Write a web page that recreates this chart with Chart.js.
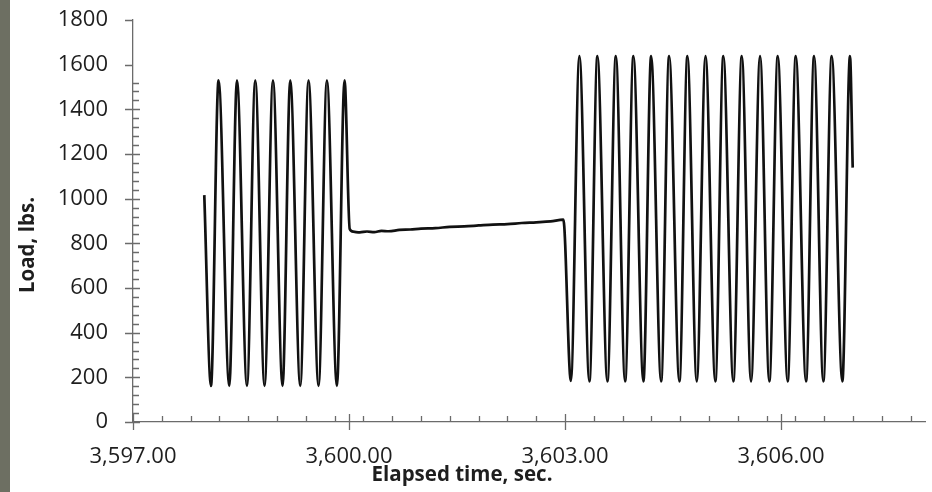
<!DOCTYPE html>
<html lang="en">
  <head>
    <meta charset="UTF-8" />
    <title>Load vs elapsed time</title>
    <script src="https://cdn.jsdelivr.net/npm/chart.js@4"></script>
    <style>
      body { margin: 0; background: #fff; }
      #wrap { position: relative; width: 932px; height: 492px; }
      #strip { position: absolute; left: 0; top: 0; width: 10px; height: 492px; background: #6d6f62; }
    </style>
  </head>
  <body>
    <div id="wrap"><canvas id="myChart"></canvas><div id="strip"></div></div>
    <script>
      // turning points of the load cycles + the hold in between
      const time = [
        3597.990, 3598.083, 3598.188, 3598.337, 3598.444, 3598.583, 3598.698, 3598.827,
        3598.944, 3599.077, 3599.184, 3599.323, 3599.438, 3599.577, 3599.693, 3599.832,
        3599.938, 3600.010,
        3600.060, 3600.150, 3600.250, 3600.350, 3600.450, 3600.550, 3600.700, 3600.850,
        3601.000, 3601.200, 3601.400, 3601.600, 3601.800, 3602.000, 3602.200, 3602.400,
        3602.600, 3602.800, 3602.977,
        3603.081, 3603.200, 3603.339, 3603.450, 3603.589, 3603.706, 3603.835, 3603.950,
        3604.089, 3604.196, 3604.335, 3604.446, 3604.589, 3604.700, 3604.830, 3604.952,
        3605.088, 3605.199, 3605.338, 3605.455, 3605.584, 3605.709, 3605.838, 3605.955,
        3606.093, 3606.205, 3606.348, 3606.459, 3606.588, 3606.704, 3606.852, 3606.958,
        3606.996
      ];
      const load = [
        1016, 162, 1530, 162, 1530, 162, 1530, 162,
        1530, 162, 1530, 162, 1530, 162, 1530, 162,
        1530, 864,
        852, 849, 853, 850, 856, 854, 860, 862,
        866, 868, 874, 876, 880, 884, 886, 891,
        894, 898, 906,
        184, 1638, 182, 1638, 182, 1638, 182, 1638,
        182, 1638, 182, 1638, 182, 1638, 182, 1638,
        182, 1638, 182, 1638, 182, 1638, 182, 1638,
        182, 1638, 182, 1638, 182, 1638, 182, 1638,
        1139
      ];

      const xTicks = [3597, 3600, 3603, 3606];
      const yTicks = [0, 200, 400, 600, 800, 1000, 1200, 1400, 1600, 1800];
      const xMin = 3597, xMax = 3608, xMinorStep = 0.4;
      const yMin = 0, yMax = 1800, yMinorStep = 40;
      const xTitle = 'Elapsed time, sec.';
      const yTitle = 'Load, lbs.';

      const axisColor = '#6b6b6b';
      const textColor = '#1e1e1e';
      const labelFont = { family: 'Open Sans', size: 22 };

      // excel style tick marks: majors cross the axis, minors point inward
      const tickMarks = {
        id: 'tickMarks',
        afterDraw(chart) {
          const { ctx, scales: { x, y } } = chart;
          const ax = x.getPixelForValue(xMin);
          const ay = y.getPixelForValue(yMin);
          ctx.save();
          ctx.strokeStyle = axisColor;
          ctx.lineWidth = 1.3;
          ctx.beginPath();
          for (let k = 1; xMin + k * xMinorStep <= xMax; k++) {
            const px = Math.round(x.getPixelForValue(xMin + k * xMinorStep)) + 0.5;
            ctx.moveTo(px, ay); ctx.lineTo(px, ay - 6);
          }
          xTicks.forEach(v => {
            const px = Math.round(x.getPixelForValue(v)) + 0.5;
            ctx.moveTo(px, ay - 8); ctx.lineTo(px, ay + 8);
          });
          for (let k = 1; yMin + k * yMinorStep < yMax; k++) {
            const v = yMin + k * yMinorStep;
            if (v % 200 === 0 || v > 1540) continue;
            const py = Math.round(y.getPixelForValue(v)) + 0.5;
            ctx.moveTo(ax, py); ctx.lineTo(ax + 6, py);
          }
          yTicks.forEach(v => {
            const py = Math.round(y.getPixelForValue(v)) + 0.5;
            ctx.moveTo(ax - 8, py); ctx.lineTo(v > 1540 ? ax : ax + 7, py);
          });
          ctx.stroke();

          // axis titles, placed like the excel original (not centred on the plot)
          ctx.fillStyle = textColor;
          ctx.font = 'bold 20.5px "Open Sans"';
          ctx.textAlign = 'center';
          ctx.textBaseline = 'middle';
          ctx.fillText(xTitle, 462, 475);
          ctx.translate(28, 245);
          ctx.rotate(-Math.PI / 2);
          ctx.fillText(yTitle, 0, 0);
          ctx.restore();
        }
      };

      const ctx = document.getElementById('myChart').getContext('2d');
      const myChart = new Chart(ctx, {
        type: 'line',
        data: {
          datasets: [{
            label: 'Load',
            data: time.map((t, i) => ({ x: t, y: load[i] })),
            borderColor: '#111',
            borderWidth: 2.7,
            pointRadius: 0,
            cubicInterpolationMode: 'monotone',
            fill: false
          }]
        },
        options: {
          responsive: true,
          maintainAspectRatio: false,
          animation: false,
          layout: { padding: { top: 20, right: 7, left: 0, bottom: 0 } },
          plugins: { legend: { display: false }, tooltip: { enabled: false } },
          scales: {
            x: {
              type: 'linear',
              min: xMin,
              max: xMax,
              afterBuildTicks: s => { s.ticks = xTicks.map(v => ({ value: v })); },
              afterFit: s => { s.height = 70; s.paddingLeft = 0; s.paddingRight = 0; },
              grid: { display: false, drawTicks: false, tickLength: 0 },
              border: { display: true, color: axisColor, width: 1.3 },
              ticks: {
                padding: 22,
                maxRotation: 0,
                autoSkip: false,
                color: textColor,
                font: labelFont,
                callback: v => v.toLocaleString('en-US', { minimumFractionDigits: 2, maximumFractionDigits: 2 })
              }
            },
            y: {
              type: 'linear',
              min: yMin,
              max: yMax,
              afterBuildTicks: s => { s.ticks = yTicks.map(v => ({ value: v })); },
              afterFit: s => { s.width = 133; s.paddingTop = 0; s.paddingBottom = 0; },
              grid: { display: false, drawTicks: false, tickLength: 0 },
              border: { display: true, color: axisColor, width: 1.3 },
              ticks: { padding: 25, color: textColor, font: labelFont, autoSkip: false, callback: v => String(v) }
            }
          }
        },
        plugins: [tickMarks]
      });
    </script>
  </body>
</html>
